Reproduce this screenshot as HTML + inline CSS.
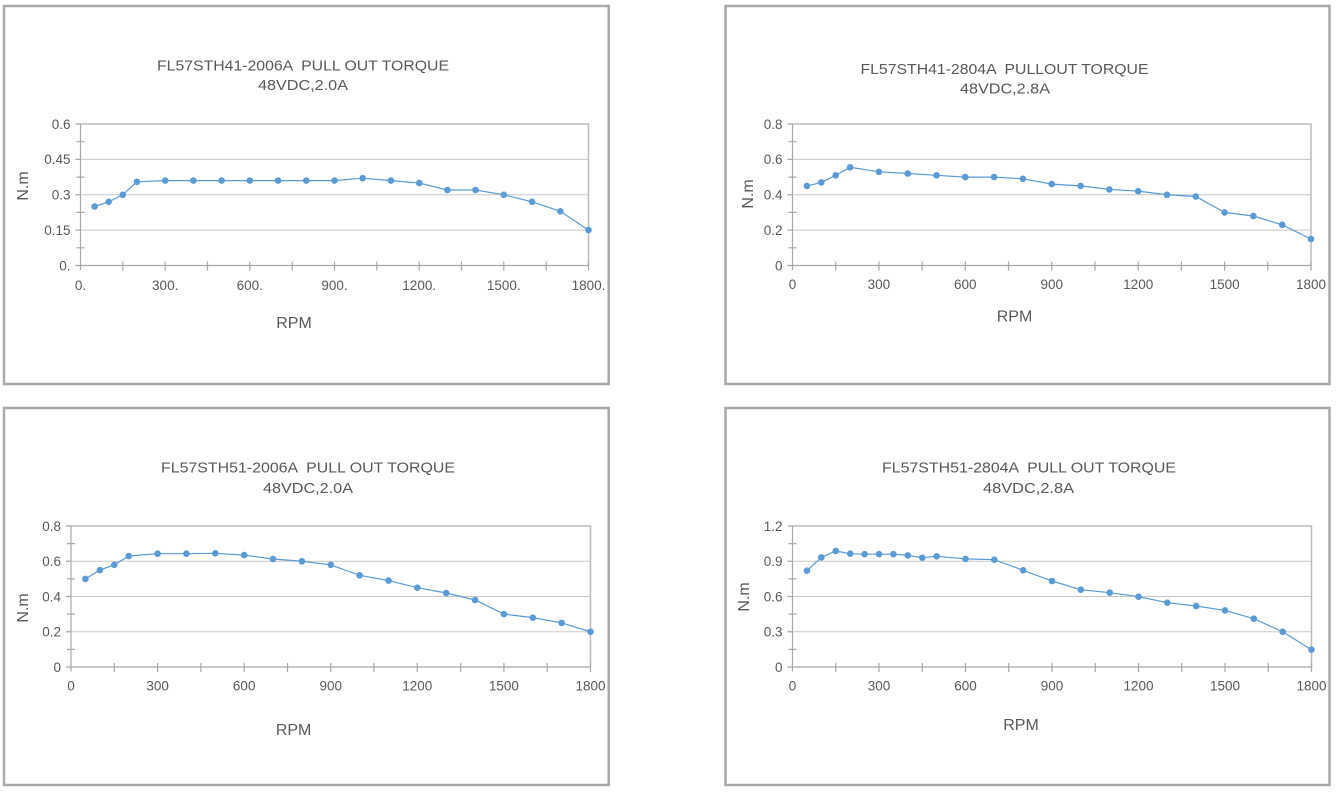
<!DOCTYPE html>
<html><head><meta charset="utf-8"><style>
html,body{margin:0;padding:0;background:#fff;}
svg{display:block;}
text{font-family:"Liberation Sans",Arial,sans-serif;fill:#595959;white-space:pre;}
.t{font-size:15px;}
.tk{font-size:13.5px;}
.ax{font-size:16px;}
</style></head><body>
<svg width="1336" height="794" viewBox="0 0 1336 794" xmlns="http://www.w3.org/2000/svg">
<defs>
<marker id="m" markerWidth="8" markerHeight="8" refX="4" refY="4" markerUnits="userSpaceOnUse"><circle cx="4" cy="4" r="3.3" fill="#5b9bd5"/></marker>
</defs>
<rect x="0" y="0" width="1336" height="794" fill="#fff"/>
<!-- frames -->
<g fill="none" stroke="#a9a9a9" stroke-width="2.5">
<rect x="4" y="6" width="604.7" height="378"/>
<rect x="725.5" y="6" width="604" height="378"/>
<rect x="4" y="408" width="604.7" height="377"/>
<rect x="725.5" y="408" width="604" height="377"/>
</g>

<!-- ============ CHART 1 ============ -->
<g fill="none" stroke="#c8c8c8" stroke-width="1">
<path d="M80.5 159.4H588.5M80.5 194.75H588.5M80.5 230.1H588.5"/>
</g>
<path d="M80.5 124H588.5V265.5" fill="none" stroke="#bcbcbc" stroke-width="1.5"/>
<g fill="none" stroke="#a8a8a8" stroke-width="1.2">
<path d="M80.5 124V270M80.5 265.5H588.5"/>
<path d="M75.5 124H80.5M75.5 159.4H80.5M75.5 194.75H80.5M75.5 230.1H80.5M75.5 265.5H80.5M76.5 141.7H84.5M76.5 177.1H84.5M76.5 212.4H84.5M76.5 247.8H84.5"/>
<path d="M122.8 261.5V270.5M165.2 261.5V270.5M207.5 261.5V270.5M249.8 261.5V270.5M292.2 261.5V270.5M334.5 261.5V270.5M376.8 261.5V270.5M419.2 261.5V270.5M461.5 261.5V270.5M503.8 261.5V270.5M546.2 261.5V270.5M588.5 261.5V270.5"/>
</g>
<polyline fill="none" stroke="#5b9bd5" stroke-width="1.2" marker-start="url(#m)" marker-mid="url(#m)" marker-end="url(#m)" points="94.6,206.5 108.7,201.8 122.8,194.8 136.9,181.8 165.2,180.6 193.4,180.6 221.6,180.6 249.8,180.6 278.1,180.6 306.3,180.6 334.5,180.6 362.7,178.2 390.9,180.6 419.2,183.0 447.4,190.0 475.6,190.0 503.8,194.8 532.1,201.8 560.3,211.3 588.5,230.1"/>
<g class="tk" text-anchor="end">
<text x="70.5" y="128.8">0.6</text>
<text x="70.5" y="164.2">0.45</text>
<text x="70.5" y="199.55">0.3</text>
<text x="70.5" y="234.9">0.15</text>
<text x="70.5" y="270.3">0.</text>
</g>
<g class="tk" text-anchor="middle">
<text x="80.5" y="290">0.</text>
<text x="165.2" y="290">300.</text>
<text x="249.8" y="290">600.</text>
<text x="334.5" y="290">900.</text>
<text x="419.2" y="290">1200.</text>
<text x="503.8" y="290">1500.</text>
<text x="588.5" y="290">1800.</text>
</g>
<text class="t" x="303" y="70.5" text-anchor="middle" textLength="292" lengthAdjust="spacingAndGlyphs">FL57STH41-2006A  PULL OUT TORQUE</text>
<text class="t" x="303" y="90" text-anchor="middle" textLength="90" lengthAdjust="spacingAndGlyphs">48VDC,2.0A</text>
<text class="ax" x="294" y="328" text-anchor="middle">RPM</text>
<text class="ax" transform="translate(22,186) rotate(-90)" x="0" y="0" dy="0.36em" text-anchor="middle">N.m</text>

<!-- ============ CHART 2 ============ -->
<g fill="none" stroke="#c8c8c8" stroke-width="1">
<path d="M792.5 159.4H1311M792.5 194.75H1311M792.5 230.1H1311"/>
</g>
<path d="M792.5 124H1311V265.5" fill="none" stroke="#bcbcbc" stroke-width="1.5"/>
<g fill="none" stroke="#a8a8a8" stroke-width="1.2">
<path d="M792.5 124V270M792.5 265.5H1311"/>
<path d="M787.5 124H792.5M787.5 159.4H792.5M787.5 194.75H792.5M787.5 230.1H792.5M787.5 265.5H792.5M788.5 141.7H796.5M788.5 177.1H796.5M788.5 212.4H796.5M788.5 247.8H796.5"/>
<path d="M835.7 261.5V270.5M878.9 261.5V270.5M922.1 261.5V270.5M965.3 261.5V270.5M1008.5 261.5V270.5M1051.75 261.5V270.5M1095 261.5V270.5M1138.2 261.5V270.5M1181.4 261.5V270.5M1224.6 261.5V270.5M1267.8 261.5V270.5M1311 261.5V270.5"/>
</g>
<polyline fill="none" stroke="#5b9bd5" stroke-width="1.2" marker-start="url(#m)" marker-mid="url(#m)" marker-end="url(#m)" points="806.9,185.9 821.3,182.4 835.7,175.3 850.1,167.3 878.9,171.8 907.7,173.5 936.5,175.3 965.3,177.1 994.1,177.1 1022.9,178.8 1051.75,184.1 1080.6,185.9 1109.4,189.4 1138.2,191.2 1167.0,194.75 1195.8,196.5 1224.6,212.4 1253.4,216.0 1282.2,224.8 1311,239.0"/>
<g class="tk" text-anchor="end">
<text x="782.5" y="128.8">0.8</text>
<text x="782.5" y="164.2">0.6</text>
<text x="782.5" y="199.55">0.4</text>
<text x="782.5" y="234.9">0.2</text>
<text x="782.5" y="270.3">0</text>
</g>
<g class="tk" text-anchor="middle">
<text x="792.5" y="289">0</text>
<text x="878.9" y="289">300</text>
<text x="965.3" y="289">600</text>
<text x="1051.75" y="289">900</text>
<text x="1138.2" y="289">1200</text>
<text x="1224.6" y="289">1500</text>
<text x="1311" y="289">1800</text>
</g>
<text class="t" x="1004.5" y="74" text-anchor="middle" textLength="288" lengthAdjust="spacingAndGlyphs">FL57STH41-2804A  PULLOUT TORQUE</text>
<text class="t" x="1005" y="93.5" text-anchor="middle" textLength="90" lengthAdjust="spacingAndGlyphs">48VDC,2.8A</text>
<text class="ax" x="1014.5" y="321.5" text-anchor="middle">RPM</text>
<text class="ax" transform="translate(747,194) rotate(-90)" x="0" y="0" dy="0.36em" text-anchor="middle">N.m</text>

<!-- ============ CHART 3 ============ -->
<g fill="none" stroke="#c8c8c8" stroke-width="1">
<path d="M71 561.25H590.5M71 596.5H590.5M71 631.75H590.5"/>
</g>
<path d="M71 526H590.5V667" fill="none" stroke="#bcbcbc" stroke-width="1.5"/>
<g fill="none" stroke="#a8a8a8" stroke-width="1.2">
<path d="M71 526V671.5M71 667H590.5"/>
<path d="M66 526H71M66 561.25H71M66 596.5H71M66 631.75H71M66 667H71M67 543.6H75M67 578.9H75M67 614.1H75M67 649.4H75"/>
<path d="M114.3 663V672M157.6 663V672M200.9 663V672M244.2 663V672M287.5 663V672M330.75 663V672M374 663V672M417.3 663V672M460.6 663V672M503.9 663V672M547.2 663V672M590.5 663V672"/>
</g>
<polyline fill="none" stroke="#5b9bd5" stroke-width="1.2" marker-start="url(#m)" marker-mid="url(#m)" marker-end="url(#m)" points="85.4,578.9 99.9,570.1 114.3,564.8 128.7,556.0 157.6,553.7 186.4,553.7 215.3,553.3 244.2,555.1 273.0,559.0 301.9,561.25 330.75,564.8 359.6,575.35 388.5,580.6 417.3,587.7 446.2,593.0 475.1,600.0 503.9,614.1 532.8,617.65 561.6,622.9 590.5,631.75"/>
<g class="tk" text-anchor="end">
<text x="61" y="530.8">0.8</text>
<text x="61" y="566.05">0.6</text>
<text x="61" y="601.3">0.4</text>
<text x="61" y="636.55">0.2</text>
<text x="61" y="671.8">0</text>
</g>
<g class="tk" text-anchor="middle">
<text x="71" y="690.7">0</text>
<text x="157.6" y="690.7">300</text>
<text x="244.2" y="690.7">600</text>
<text x="330.75" y="690.7">900</text>
<text x="417.3" y="690.7">1200</text>
<text x="503.9" y="690.7">1500</text>
<text x="590.5" y="690.7">1800</text>
</g>
<text class="t" x="308" y="472.7" text-anchor="middle" textLength="294" lengthAdjust="spacingAndGlyphs">FL57STH51-2006A  PULL OUT TORQUE</text>
<text class="t" x="308" y="493" text-anchor="middle" textLength="90" lengthAdjust="spacingAndGlyphs">48VDC,2.0A</text>
<text class="ax" x="293.6" y="735" text-anchor="middle">RPM</text>
<text class="ax" transform="translate(22,608) rotate(-90)" x="0" y="0" dy="0.36em" text-anchor="middle">N.m</text>

<!-- ============ CHART 4 ============ -->
<g fill="none" stroke="#c8c8c8" stroke-width="1">
<path d="M792.5 561.25H1311.5M792.5 596.5H1311.5M792.5 631.75H1311.5"/>
</g>
<path d="M792.5 526H1311.5V667" fill="none" stroke="#bcbcbc" stroke-width="1.5"/>
<g fill="none" stroke="#a8a8a8" stroke-width="1.2">
<path d="M792.5 526V671.5M792.5 667H1311.5"/>
<path d="M787.5 526H792.5M787.5 561.25H792.5M787.5 596.5H792.5M787.5 631.75H792.5M787.5 667H792.5M788.5 543.6H796.5M788.5 578.9H796.5M788.5 614.1H796.5M788.5 649.4H796.5"/>
<path d="M835.75 663V672M879 663V672M922.25 663V672M965.5 663V672M1008.75 663V672M1052 663V672M1095.25 663V672M1138.5 663V672M1181.75 663V672M1225 663V672M1268.25 663V672M1311.5 663V672"/>
</g>
<polyline fill="none" stroke="#5b9bd5" stroke-width="1.2" marker-start="url(#m)" marker-mid="url(#m)" marker-end="url(#m)" points="806.9,570.65 821.3,557.4 835.75,551.0 850.2,553.7 864.6,554.2 879.0,554.2 893.4,554.2 907.8,555.4 922.25,557.7 936.7,556.3 965.5,558.9 994.3,559.7 1023.2,570.3 1052.0,581.0 1080.8,589.7 1109.7,592.7 1138.5,596.7 1167.3,602.7 1196.2,606.0 1225.0,610.4 1253.8,618.7 1282.7,631.75 1311.5,649.7"/>
<g class="tk" text-anchor="end">
<text x="782.5" y="530.8">1.2</text>
<text x="782.5" y="566.05">0.9</text>
<text x="782.5" y="601.3">0.6</text>
<text x="782.5" y="636.55">0.3</text>
<text x="782.5" y="671.8">0</text>
</g>
<g class="tk" text-anchor="middle">
<text x="792.5" y="690.7">0</text>
<text x="879" y="690.7">300</text>
<text x="965.5" y="690.7">600</text>
<text x="1052" y="690.7">900</text>
<text x="1138.5" y="690.7">1200</text>
<text x="1225" y="690.7">1500</text>
<text x="1311.5" y="690.7">1800</text>
</g>
<text class="t" x="1029" y="472.7" text-anchor="middle" textLength="294" lengthAdjust="spacingAndGlyphs">FL57STH51-2804A  PULL OUT TORQUE</text>
<text class="t" x="1028.5" y="493" text-anchor="middle" textLength="91" lengthAdjust="spacingAndGlyphs">48VDC,2.8A</text>
<text class="ax" x="1021" y="730" text-anchor="middle">RPM</text>
<text class="ax" transform="translate(743,597) rotate(-90)" x="0" y="0" dy="0.36em" text-anchor="middle">N.m</text>
</svg>
</body></html>
